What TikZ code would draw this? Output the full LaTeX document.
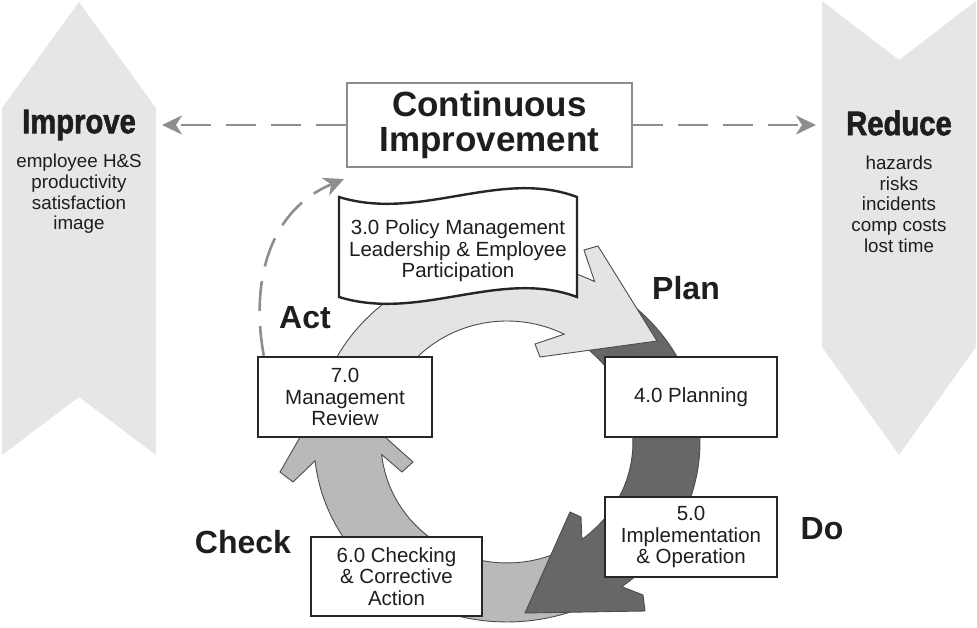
\documentclass[tikz,border=0pt]{standalone}
\usepackage{fontspec}
\setmainfont{Liberation Sans}
\newfontfamily\heavyfont[FakeBold=2]{Liberation Sans Bold}
\usepackage{graphicx}
\usetikzlibrary{arrows.meta,positioning}

\definecolor{sidegray}{HTML}{E6E6E6}
\definecolor{ringlight}{HTML}{E4E4E4}
\definecolor{ringmid}{HTML}{B9B9B9}
\definecolor{ringdark}{HTML}{676767}
\definecolor{dashgray}{HTML}{8E8E8E}
\definecolor{inkgray}{HTML}{1E1E1E}

\newcommand{\boxfont}{\fontsize{20.5}{21.5}\selectfont}
\newcommand{\listfont}{\fontsize{18.8}{20.7}\selectfont}
\newcommand{\phasefont}{\fontsize{32}{34}\selectfont\bfseries}
\newcommand{\heavy}[1]{{\heavyfont\fontsize{34}{36}\selectfont\scalebox{0.86}[1]{#1}}}

\tikzset{stagebox/.style={draw=black!85, line width=2.4pt, fill=white, align=center, inner sep=0pt, minimum width=172pt, minimum height=80pt, font=\boxfont, text=inkgray}}
\tikzset{ringarr/.style={draw=black!70, line width=0.9pt, line join=miter}}
\tikzset{dasharr/.style={draw=dashgray, line width=2.6pt, dash pattern=on 30pt off 15pt, -{Stealth[length=20pt,width=19pt,inset=6pt]}}}
\tikzset{phase/.style={font=\phasefont, text=inkgray}}
\tikzset{sidelist/.style={align=center, font=\listfont, text=inkgray}}

\begin{document}
\begin{tikzpicture}[x=1pt, y=-1pt]
	\useasboundingbox (0,0) rectangle (977,628);

	% side chevrons
	\fill[sidegray] (79,2) -- (156,108) -- (156,455) -- (79,397) -- (2,455) -- (2,108) -- cycle;
	\fill[sidegray] (822,1) -- (899,60) -- (976,1) -- (976,347) -- (899,455) -- (822,347) -- cycle;
	\coordinate (improvetip) at (162,125);
	\coordinate (reducetip) at (816,125);

	\node[text=inkgray] (improve) at (79,125) {\heavy{Improve}};
	\node[sidelist] (improvelist) at (79,194) {employee H\&S\\productivity\\satisfaction\\image};
	\node[text=inkgray] (reduce) at (899,123) {\heavy{Reduce}};
	\node[sidelist] (reducelist) at (899,204) {hazards\\risks\\incidents\\comp costs\\lost time};

	% the cycle
	\filldraw[ringarr, fill=ringmid] (588.6,605.1) arc[start angle=65, end angle=174, x radius=193, y radius=180]
		-- (293,482) -- (280,472) -- (329,387) -- (413,462) -- (402,472)
		-- (381.7,454.6) arc[start angle=174, end angle=65, x radius=126, y radius=121] -- cycle;
	\filldraw[ringarr, fill=ringdark] (617.7,294.5) arc[start angle=305, end angle=413.5, x radius=193, y radius=180]
		-- (643,595) -- (645,611) -- (525,613) -- (570,512) -- (581,517)
		-- (581.9,539.3) arc[start angle=413.5, end angle=305, x radius=126, y radius=121] -- cycle;
	\filldraw[ringarr, fill=ringlight] (320.6,395.4) arc[start angle=195, end angle=297, x radius=193, y radius=180]
		-- (584,250) -- (598,246) -- (657,341) -- (540,357) -- (535,344)
		-- (564.2,334.2) arc[start angle=297, end angle=195, x radius=126, y radius=121] -- cycle;

	\node[draw=black!45, line width=2pt, fill=white, align=center, minimum width=285pt, minimum height=84pt,
		font=\fontsize{35}{35}\selectfont\bfseries, text=inkgray] (ci) at (489.5,125) {Continuous\\Improvement};

	\filldraw[draw=black!85, line width=2.4pt, fill=white] (339,197) .. controls (420,222) and (500,168) .. (577,197)
		-- (577,297) .. controls (500,268) and (420,322) .. (339,297) -- cycle;
	\node[align=center, font=\boxfont, text=inkgray] (policy) at (458,251) {3.0 Policy Management\\Leadership \& Employee\\Participation};

	\node[stagebox, minimum width=174pt] (review) at (345,397) {7.0\\Management\\Review};
	\node[stagebox] (planning) at (691,397) {4.0 Planning};
	\node[stagebox] (implement) at (691,537) {5.0\\Implementation\\\& Operation};
	\node[stagebox, minimum width=171pt, minimum height=79pt] (checking) at (396.5,576.5) {6.0 Checking\\\& Corrective\\Action};

	\begin{scope}
		\draw[dasharr] (ci.west) -- (improvetip);
		\draw[dasharr] (ci.east) -- (reducetip);
		\draw[dasharr] ([xshift=7pt]review.north west) .. controls (250,280) and (270,210) .. ([xshift=-2pt,yshift=-11pt]ci.south west);
	\end{scope}

	\node[phase] (plan) at (686,288) {Plan};
	\node[phase] (do) at (822,529) {Do};
	\node[phase] (check) at (243,542) {Check};
	\node[phase] (act) at (305,318) {Act};
\end{tikzpicture}
\end{document}
